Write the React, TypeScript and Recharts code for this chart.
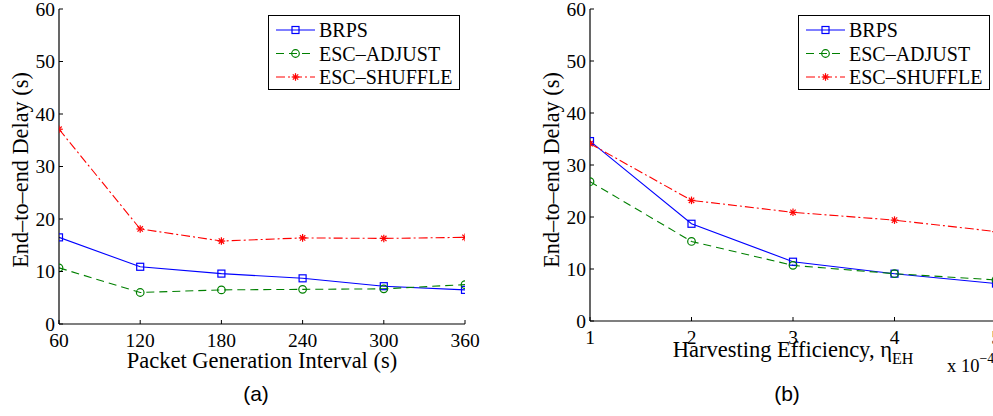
import React from 'react';
import { LineChart, Line, XAxis, YAxis, Legend, Label } from 'recharts';

// panel (a): delay vs packet generation interval
const intervals = [60, 120, 180, 240, 300, 360];
const brpsA = [16.5, 10.9, 9.6, 8.7, 7.2, 6.5];
const adjustA = [10.7, 6.0, 6.5, 6.6, 6.7, 7.5];
const shuffleA = [37.1, 18.1, 15.8, 16.4, 16.3, 16.5];

// panel (b): delay vs harvesting efficiency (x 10^-4)
const efficiency = [1, 2, 3, 4, 5];
const brpsB = [34.6, 18.7, 11.4, 9.1, 7.2];
const adjustB = [26.8, 15.3, 10.7, 9.1, 7.9];
const shuffleB = [34.1, 23.2, 20.9, 19.4, 17.2];

const delayTicks = [0, 10, 20, 30, 40, 50, 60];

const SERIF = '"Liberation Serif", "Times New Roman", serif';
const SANS = '"Liberation Sans", Arial, sans-serif';

const SERIES = [
  { key: 'brps', name: 'BRPS', color: '#0000ff', dash: undefined, marker: 'square' },
  { key: 'adjust', name: 'ESC–ADJUST', color: '#008000', dash: '8 5', marker: 'circle' },
  { key: 'shuffle', name: 'ESC–SHUFFLE', color: '#ff0000', dash: '9 3 2 3', marker: 'star' },
];

function Marker({ kind, cx, cy, color }: { kind: string; cx: number; cy: number; color: string }) {
  if (kind === 'square') {
    return <rect x={cx - 3.5} y={cy - 3.5} width={7} height={7} fill="none" stroke={color} strokeWidth={1.2} />;
  }
  if (kind === 'circle') {
    return <circle cx={cx} cy={cy} r={3.8} fill="none" stroke={color} strokeWidth={1.2} />;
  }
  const r = 3.8;
  const d = r * 0.707;
  return (
    <g stroke={color} strokeWidth={1.2}>
      <line x1={cx - r} y1={cy} x2={cx + r} y2={cy} />
      <line x1={cx} y1={cy - r} x2={cx} y2={cy + r} />
      <line x1={cx - d} y1={cy - d} x2={cx + d} y2={cy + d} />
      <line x1={cx - d} y1={cy + d} x2={cx + d} y2={cy - d} />
    </g>
  );
}

const XTickBottom = (props: any) => {
  const { x, y, payload } = props;
  return (
    <g>
      <line x1={x} y1={y} x2={x} y2={y - 4} stroke="#000" />
      <text x={x} y={y + 22.5} textAnchor="middle" fontFamily={SERIF} fontSize={19.5} fill="#000">
        {payload.value}
      </text>
    </g>
  );
};

const XTickTop = (props: any) => {
  const { x, y } = props;
  return <line x1={x} y1={y} x2={x} y2={y + 4} stroke="#000" />;
};

const YTickLeft = (props: any) => {
  const { x, y, payload } = props;
  return (
    <g>
      <line x1={x} y1={y} x2={x + 4} y2={y} stroke="#000" />
      <text x={x - 4} y={y + 6.8} textAnchor="end" fontFamily={SERIF} fontSize={19.5} fill="#000">
        {payload.value}
      </text>
    </g>
  );
};

const YTickRight = (props: any) => {
  const { x, y } = props;
  return <line x1={x} y1={y} x2={x - 4} y2={y} stroke="#000" />;
};

function LegendBox() {
  return (
    <div style={{ width: 192, height: 75, boxSizing: 'border-box', border: '1.3px solid #000', background: '#fff' }}>
      <svg width={190} height={73} style={{ display: 'block' }}>
        {SERIES.map((s, i) => {
          const cy = 14 + i * 23.5;
          return (
            <g key={s.key}>
              <line x1={7} y1={cy} x2={46} y2={cy} stroke={s.color} strokeWidth={1} strokeDasharray={s.dash} />
              <Marker kind={s.marker} cx={26.5} cy={cy} color={s.color} />
              <text x={50} y={cy + 7} fontFamily={SERIF} fontSize={20} fill="#000">
                {s.name}
              </text>
            </g>
          );
        })}
      </svg>
    </div>
  );
}

interface PanelProps {
  data: Record<string, number>[];
  xTicks: number[];
  width: number;
  margin: { top: number; right: number; bottom: number; left: number };
  yAxisWidth: number;
  legendLeft: number;
  xLabel: (vb: any) => React.ReactNode;
}

function DelayPanel({ data, xTicks, width, margin, yAxisWidth, legendLeft, xLabel }: PanelProps) {
  const xDomain = [xTicks[0], xTicks[xTicks.length - 1]];
  return (
    <LineChart width={width} height={416} data={data} margin={margin}>
      <XAxis
        dataKey="x"
        type="number"
        domain={xDomain}
        ticks={xTicks}
        interval={0}
        allowDataOverflow
        height={30}
        tickSize={0}
        tickMargin={0}
        tickLine={false}
        tick={<XTickBottom />}
        axisLine={{ stroke: '#000', strokeWidth: 1.2 }}
      >
        <Label content={({ viewBox }: any) => xLabel(viewBox)} />
      </XAxis>
      <XAxis
        xAxisId="top"
        orientation="top"
        type="number"
        domain={xDomain}
        ticks={xTicks}
        interval={0}
        allowDataOverflow
        height={0}
        tickSize={0}
        tickMargin={0}
        tickLine={false}
        tick={<XTickTop />}
        axisLine={{ stroke: '#000', strokeWidth: 1.2 }}
      />
      <YAxis
        type="number"
        domain={[0, 60]}
        ticks={delayTicks}
        interval={0}
        allowDataOverflow
        width={yAxisWidth}
        tickSize={0}
        tickMargin={0}
        tickLine={false}
        tick={<YTickLeft />}
        axisLine={{ stroke: '#000', strokeWidth: 1.2 }}
      >
        <Label
          content={({ viewBox }: any) => {
            const bx = viewBox.x + viewBox.width - 31;
            const by = 170;
            return (
              <text
                x={bx}
                y={by}
                transform={`rotate(-90 ${bx} ${by})`}
                textAnchor="middle"
                fontFamily={SERIF}
                fontSize={22.3}
                fill="#000"
              >
                End–to–end Delay (s)
              </text>
            );
          }}
        />
      </YAxis>
      <YAxis
        yAxisId="right"
        orientation="right"
        type="number"
        domain={[0, 60]}
        ticks={delayTicks}
        interval={0}
        allowDataOverflow
        width={0}
        tickSize={0}
        tickMargin={0}
        tickLine={false}
        tick={<YTickRight />}
        axisLine={{ stroke: '#000', strokeWidth: 1.2 }}
      />
      {SERIES.map((s) => (
        <Line
          key={s.key}
          dataKey={s.key}
          name={s.name}
          type="linear"
          stroke={s.color}
          strokeWidth={1.1}
          strokeDasharray={s.dash}
          isAnimationActive={false}
          activeDot={false}
          dot={(p: any) => <Marker key={`${s.key}-${p.index}`} kind={s.marker} cx={p.cx} cy={p.cy} color={s.color} />}
        />
      ))}
      <Legend
        layout="vertical"
        align="center"
        verticalAlign="middle"
        content={() => <LegendBox />}
        wrapperStyle={{ left: legendLeft, top: 15, width: 192, height: 75 }}
      />
    </LineChart>
  );
}

const dataA = intervals.map((x, i) => ({ x, brps: brpsA[i], adjust: adjustA[i], shuffle: shuffleA[i] }));
const dataB = efficiency.map((x, i) => ({ x, brps: brpsB[i], adjust: adjustB[i], shuffle: shuffleB[i] }));

export default function App() {
  return (
    <div
      style={{
        position: 'fixed',
        left: 0,
        top: 0,
        width: 993,
        height: 416,
        overflow: 'hidden',
        background: '#fff',
      }}
    >
      <div style={{ position: 'absolute', left: 0, top: 0 }}>
        <DelayPanel
          data={dataA}
          xTicks={intervals}
          width={480}
          margin={{ top: 9, right: 15, bottom: 62, left: 0 }}
          yAxisWidth={59}
          legendLeft={268}
          xLabel={(vb) => (
            <text x={vb.x + vb.width / 2} y={vb.y + 44} textAnchor="middle" fontFamily={SERIF} fontSize={22.5} fill="#000">
              Packet Generation Interval (s)
            </text>
          )}
        />
      </div>
      <div style={{ position: 'absolute', left: 496, top: 0 }}>
        <DelayPanel
          data={dataB}
          xTicks={efficiency}
          width={520}
          margin={{ top: 9, right: 20, bottom: 65, left: 0 }}
          yAxisWidth={94}
          legendLeft={302}
          xLabel={(vb) => (
            <text x={vb.x + vb.width / 2} y={vb.y + 36} textAnchor="middle" fontFamily={SERIF} fontSize={22.5} fill="#000">
              Harvesting Efficiency, η
              <tspan dy={7} fontSize={16}>
                EH
              </tspan>
            </text>
          )}
        />
      </div>
      <svg width={993} height={416} style={{ position: 'absolute', left: 0, top: 0, pointerEvents: 'none' }}>
        <text x={947} y={372} fontFamily={SERIF} fontSize={18.5} fill="#000">
          x 10
          <tspan dy={-9} fontSize={14}>
            −4
          </tspan>
        </text>
        <text x={256} y={401} textAnchor="middle" fontFamily={SANS} fontSize={21} fill="#000">
          (a)
        </text>
        <text x={787} y={401} textAnchor="middle" fontFamily={SANS} fontSize={21} fill="#000">
          (b)
        </text>
      </svg>
    </div>
  );
}
